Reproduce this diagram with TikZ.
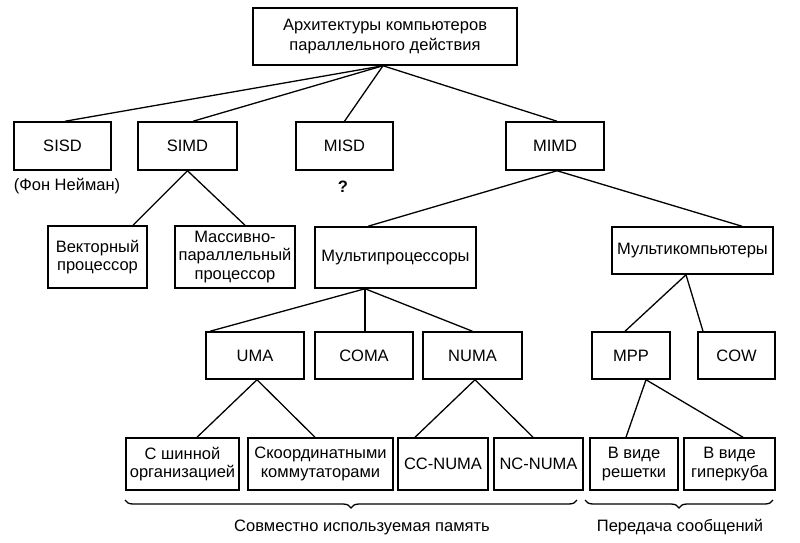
\documentclass[tikz,border=0pt]{standalone}
\usepackage{fontspec}
\setmainfont{Liberation Sans}
\usetikzlibrary{decorations.pathreplacing}

\begin{document}
\begin{tikzpicture}[x=1pt, y=-1pt, font=\fontsize{16.5}{18.5}\selectfont,
        box/.style={draw, line width=1.5pt, inner sep=0pt, align=center, minimum height=48pt},
        link/.style={line width=1.3pt},
        curly/.style={decorate, decoration={brace, mirror, amplitude=8pt}, line width=1.3pt}]
        \useasboundingbox (0,0) rectangle (800,543);

        % top level
        \node[box, minimum width=264pt, minimum height=57pt] (ARCH) at (385,36.5) {Архитектуры компьютеров\\[1.5pt]параллельного действия};

        \node[box, minimum width=97pt] (SISD) at (62.5,146) {SISD};
        \node[box, minimum width=99pt] (SIMD) at (187.5,146) {SIMD};
        \node[box, minimum width=97pt] (MISD) at (344.5,146) {MISD};
        \node[box, minimum width=98pt] (MIMD) at (555,146) {MIMD};
        \node (VN) at (67,186) {(Фон Нейман)};
        \node (Q) at (343,187) {\textbf{?}};

        \node[box, minimum width=99pt, minimum height=62pt] (VEC) at (97.5,257) {Векторный\\процессор};
        \node[box, minimum width=120pt, minimum height=62pt] (MPAR) at (235,257) {Массивно-\\параллельный\\процессор};
        \node[box, minimum width=161pt, minimum height=61pt] (MP) at (395.5,257.5) {Мультипроцессоры};
        \node[box, minimum width=161pt, minimum height=47pt] (MC) at (692.5,250.5) {Мультикомпьютеры};

        \node[box, minimum width=98pt, minimum height=47pt] (UMA) at (255,355.5) {UMA};
        \node[box, minimum width=98pt, minimum height=47pt] (COMA) at (364,355.5) {COMA};
        \node[box, minimum width=99pt, minimum height=47pt] (NUMA) at (472.5,355.5) {NUMA};
        \node[box, minimum width=78pt, minimum height=47pt] (MPP) at (631,355.5) {MPP};
        \node[box, minimum width=77pt, minimum height=47pt] (COW) at (736.5,355.5) {COW};

        \node[box, minimum width=113pt, minimum height=52pt] (BUS) at (182.5,464) {С шинной\\организацией};
        \node[box, minimum width=145pt, minimum height=52pt] (XBAR) at (320.5,464) {Скоординатными\\коммутаторами};
        \node[box, minimum width=90pt, minimum height=52pt] (CCN) at (443,464) {CC-NUMA};
        \node[box, minimum width=89pt, minimum height=52pt] (NCN) at (538.5,464) {NC-NUMA};
        \node[box, minimum width=88pt, minimum height=52pt] (GRID) at (634,464) {В виде\\решетки};
        \node[box, minimum width=91pt, minimum height=52pt] (HCUBE) at (729.5,464) {В виде\\гиперкуба};

        % tree lines
        \draw[link] ([xshift=-2pt]ARCH.south) -- ([xshift=2.5pt]SISD.north);
        \draw[link] ([xshift=-2pt]ARCH.south) -- ([xshift=5.5pt]SIMD.north);
        \draw[link] ([xshift=-2pt]ARCH.south) -- (MISD.north);
        \draw[link] ([xshift=-2pt]ARCH.south) -- ([xshift=2pt]MIMD.north);

        \draw[link] (SIMD.south) -- ([xshift=35.5pt]VEC.north);
        \draw[link] (SIMD.south) -- ([xshift=10pt]MPAR.north);

        \draw[link] ([xshift=2pt]MIMD.south) -- ([xshift=-27.5pt]MP.north);
        \draw[link] ([xshift=2pt]MIMD.south) -- ([xshift=49.5pt]MC.north);

        \draw[link] ([xshift=-30.5pt]MP.south) -- ([xshift=-45pt]UMA.north);
        \draw[link] ([xshift=-30.5pt]MP.south) -- ([xshift=1pt]COMA.north);
        \draw[link] ([xshift=-30.5pt]MP.south) -- (NUMA.north);

        \draw[link] ([xshift=-6.5pt]MC.south) -- ([xshift=-6pt]MPP.north);
        \draw[link] ([xshift=-6.5pt]MC.south) -- ([xshift=-33.5pt]COW.north);

        \draw[link] ([xshift=2pt]UMA.south) -- ([xshift=14.5pt]BUS.north);
        \draw[link] ([xshift=2pt]UMA.south) -- ([xshift=-5.5pt]XBAR.north);
        \draw[link] ([xshift=2.5pt]NUMA.south) -- ([xshift=-28pt]CCN.north);
        \draw[link] ([xshift=2.5pt]NUMA.south) -- ([xshift=-5.5pt]NCN.north);
        \draw[link] ([xshift=15pt]MPP.south) -- ([xshift=-8pt]GRID.north);
        \draw[link] ([xshift=15pt]MPP.south) -- ([xshift=13.5pt]HCUBE.north);

        % braces
        \coordinate (SML) at (125,500);
        \coordinate (SMR) at (577,500);
        \coordinate (MSL) at (585,500);
        \coordinate (MSR) at (773,500);
        \draw[curly] (SML) -- (SMR);
        \draw[curly] (MSL) -- (MSR);
        \node (SM) at (362,527) {Совместно используемая память};
        \node (MSG) at (680,527) {Передача сообщений};
\end{tikzpicture}
\end{document}
